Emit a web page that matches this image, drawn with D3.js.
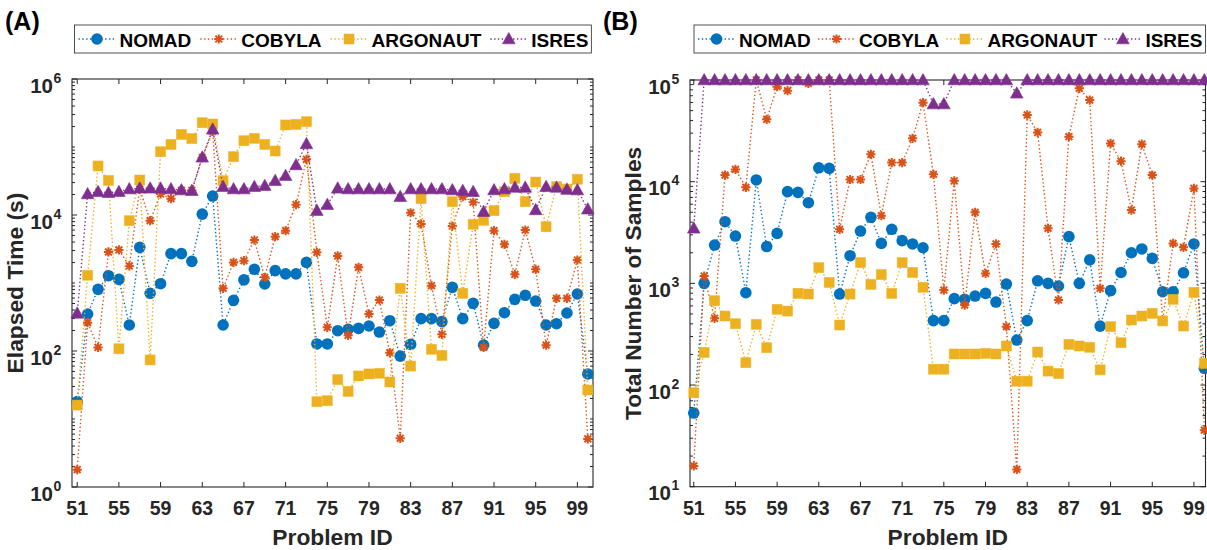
<!DOCTYPE html>
<html>
<head>
<meta charset="utf-8">
<script src="https://cdn.jsdelivr.net/npm/d3@7/dist/d3.min.js"></script>
<style>
body{margin:0;background:#fff;}
#canvas text{font-family:"Liberation Sans",Arial,Helvetica,sans-serif;font-weight:bold;}
</style>
</head>
<body>
<svg id="canvas" width="1207" height="550"></svg>
<script>

// categories
var problemIds = [51,52,53,54,55,56,57,58,59,60,61,62,63,64,65,66,67,68,69,70,
                  71,72,73,74,75,76,77,78,79,80,81,82,83,84,85,86,87,88,89,90,
                  91,92,93,94,95,96,97,98,99,100]
var xTickLabels = [51,55,59,63,67,71,75,79,83,87,91,95,99]
var seriesNames = ["NOMAD","COBYLA","ARGONAUT","ISRES"]

// (A) elapsed time in seconds
var nomadTime = [18,350,807,1280,1130,241,3350,705,977,2700,
                 2700,2080,10300,19000,241,556,1110,1590,967,1520,
                 1360,1360,2010,127,127,199,208,215,233,190,
                 279,84,125,299,299,270,863,299,502,122,
                 255,366,575,659,543,241,252,362,689,46]
var cobylaTime = [1.8,261,113,2860,3060,1780,24000,8260,20400,17400,
                  23000,23000,70000,170000,835,2010,2130,4290,1210,4800,
                  5890,14200,65900,2830,223,2500,170,1700,350,562,
                  94.5,5.2,10800,7400,914,176,6890,18600,15400,113,
                  5890,3700,1340,6020,1590,122,595,595,2180,5.1]
var argonautTime = [16,1300,52600,32300,108,8260,32700,74,85300,109000,
                    153000,133000,228000,218000,32000,72100,124000,134000,109000,87300,
                    211000,215000,236000,18,18.6,38,25.5,43,46,47,
                    35,835,60,17400,106,86,15700,705,7290,8350,
                    11600,22000,34600,15700,30500,6730,26100,24000,33500,26.7]
var isresTime = [358,20400,22000,21300,22000,24100,24700,24700,24700,24100,
                 23300,22800,70500,182000,26100,24100,24100,26100,27000,32000,
                 37900,54400,111000,11600,14200,24700,24100,24100,24100,24100,
                 24100,18600,24100,24100,24100,24100,23300,22800,22000,11200,
                 23300,24100,25400,25400,11900,26100,25400,23800,23300,12200]

// (B) total number of samples
var nomadSamples = [53,1000,2380,4040,2920,809,10400,2300,3100,7980,
                    7850,6210,13700,13500,785,1870,3270,4460,2470,3400,
                    2630,2440,2240,430,430,707,696,750,797,655,
                    984,277,430,1060,1000,942,2880,1000,1700,380,
                    848,1280,2000,2180,1760,828,828,1270,2440,146]
var cobylaSamples = [16,1180,453,11600,13200,8790,100000,41000,86000,78500,
                     100000,92700,100000,100000,3400,10500,10500,18600,4630,15400,
                     15400,26700,59800,11800,859,10200,612,4990,1250,2440,
                     375,14.8,45300,30500,3480,686,27700,82800,63500,893,
                     23800,15900,5260,23400,11600,430,2470,2260,8590,36]
var argonautSamples = [84,209,676,477,401,166,395,233,555,534,
                       797,785,1430,1020,389,785,1600,977,1220,797,
                       1600,1280,914,143,143,202,202,202,205,202,
                       242,109,109,211,137,130,251,242,235,141,
                       375,261,436,477,507,427,696,380,815,163]
var isresSamples = [3480,100000,100000,100000,100000,100000,100000,100000,100000,100000,
                    100000,100000,100000,100000,100000,100000,100000,100000,100000,100000,
                    100000,100000,100000,58000,58000,100000,100000,100000,100000,100000,
                    100000,74000,100000,100000,100000,100000,100000,100000,100000,100000,
                    100000,100000,100000,100000,100000,100000,100000,100000,100000,100000]

var colors = ["#0072BD","#D95319","#EDB120","#7E2F8E"]
var markers = ["circle","asterisk","square","triangle"]
var axisColor = "#262626"

var canvas = d3.select("#canvas")


function drawMarker(sel, type, cx, cy, color){
    if(type=="circle"){
        sel.append("circle").attr("cx",cx).attr("cy",cy).attr("r",5.8).style("fill",color)
    }
    else if(type=="square"){
        sel.append("rect").attr("x",cx-5).attr("y",cy-5).attr("width",10).attr("height",10)
            .style("fill",color).style("stroke",color).style("stroke-opacity",0.6).style("stroke-width",0.8)
    }
    else if(type=="triangle"){
        sel.append("path").attr("d","M"+cx+" "+(cy-6.5)+" L"+(cx+6.3)+" "+(cy+4.8)+" L"+(cx-6.3)+" "+(cy+4.8)+" Z")
            .style("fill",color).style("stroke",color).style("stroke-width",0.6)
    }
    else{
        // matlab '*' : a plus and a cross on top of each other
        var a=4.6, b=3.4
        var d="M"+(cx-a)+" "+cy+" l"+(2*a)+" 0 M"+cx+" "+(cy-a)+" l0 "+(2*a)+
              " M"+(cx-b)+" "+(cy-b)+" l"+(2*b)+" "+(2*b)+" M"+(cx-b)+" "+(cy+b)+" l"+(2*b)+" "+(-2*b)
        sel.append("path").attr("d",d).style("stroke",color).style("stroke-width",2).style("fill","none")
    }
}


function drawPanel(cfg){

    var x = d3.scaleLinear().domain(cfg.xDomain).range([cfg.left, cfg.right])
    var y = d3.scaleLog().domain(cfg.yDomain).range([cfg.bottom, cfg.top])
    var g = canvas.append("g")

    //axes box
    g.append("rect")
        .attr("x",cfg.left).attr("y",cfg.top)
        .attr("width",cfg.right-cfg.left).attr("height",cfg.bottom-cfg.top)
        .style("fill","none").style("stroke",axisColor).style("stroke-width",1.1)

    //x ticks, bottom and top, pointing inward
    xTickLabels.forEach(function(t){
        g.append("line").attr("x1",x(t)).attr("x2",x(t)).attr("y1",cfg.bottom).attr("y2",cfg.bottom-5)
            .style("stroke",axisColor)
        g.append("line").attr("x1",x(t)).attr("x2",x(t)).attr("y1",cfg.top).attr("y2",cfg.top+5)
            .style("stroke",axisColor)
        g.append("text").attr("x",x(t)).attr("y",cfg.bottom+28)
            .attr("text-anchor","middle").style("font-size","19.5px").style("fill",axisColor)
            .text(t)
    })

    //y ticks on a log axis
    var lo = Math.round(Math.log10(cfg.yDomain[0]))
    var hi = Math.round(Math.log10(cfg.yDomain[1]))
    for(var e=lo; e<=hi; e++){
        var major = cfg.yMajor.indexOf(e)>=0
        var len = major ? 5 : 3
        var v = Math.pow(10,e)
        g.append("line").attr("x1",cfg.left).attr("x2",cfg.left+len).attr("y1",y(v)).attr("y2",y(v)).style("stroke",axisColor)
        g.append("line").attr("x1",cfg.right).attr("x2",cfg.right-len).attr("y1",y(v)).attr("y2",y(v)).style("stroke",axisColor)
        if(major){
            g.append("text").attr("x",cfg.left-19).attr("y",y(v)+13.5)
                .attr("text-anchor","end").style("font-size","20.5px").style("fill",axisColor).text("10")
            g.append("text").attr("x",cfg.left-18.5).attr("y",y(v)+3.5)
                .style("font-size","14px").style("fill",axisColor).text(e)
        }
        if(e<hi){
            for(var k=2;k<=9;k++){
                var m = k*v
                g.append("line").attr("x1",cfg.left).attr("x2",cfg.left+3).attr("y1",y(m)).attr("y2",y(m)).style("stroke",axisColor)
                g.append("line").attr("x1",cfg.right).attr("x2",cfg.right-3).attr("y1",y(m)).attr("y2",y(m)).style("stroke",axisColor)
            }
        }
    }

    //axis labels
    g.append("text").attr("x",(cfg.left+cfg.right)/2).attr("y",545)
        .attr("text-anchor","middle").style("font-size","22.8px").style("fill",axisColor)
        .text("Problem ID")
    g.append("text")
        .attr("transform","translate("+(cfg.left-49.5)+","+((cfg.top+cfg.bottom)/2)+") rotate(-90)")
        .attr("text-anchor","middle").style("font-size","22.8px").style("fill",axisColor)
        .text(cfg.yLabel)

    //panel letter
    g.append("text").attr("x",cfg.letterX).attr("y",30)
        .style("font-size","25px").style("fill","#000").text(cfg.letter)

    //series: dotted line then markers, in legend order
    for(var i=0;i<4;i++){
        var vals = cfg.values[i]
        var pts = problemIds.map(function(id,j){ return [x(id), y(vals[j])] })
        g.append("path").attr("d", d3.line()(pts))
            .style("fill","none").style("stroke",colors[i])
            .style("stroke-width",1.4).style("stroke-dasharray","1.4,2.4")
        var mg = g.append("g")
        pts.forEach(function(p){ drawMarker(mg, markers[i], p[0], p[1], colors[i]) })
    }

    //legend
    var lg = g.append("g")
    var box = lg.append("rect").attr("x",cfg.legendX).attr("y",25).attr("height",28)
        .style("fill","#fff").style("stroke",axisColor).style("stroke-width",0.8)
    var cur = cfg.legendX+4
    for(var i=0;i<4;i++){
        lg.append("line").attr("x1",cur).attr("x2",cur+37).attr("y1",39).attr("y2",39)
            .style("stroke",colors[i]).style("stroke-width",1.4).style("stroke-dasharray","1.4,2.4")
        drawMarker(lg, markers[i], cur+18.5, 39, colors[i])
        var txt = lg.append("text").attr("x",cur+41).attr("y",46.5)
            .style("font-size","19px").style("fill","#000").text(seriesNames[i])
        cur = cur+41+txt.node().getComputedTextLength()+cfg.legendGap
    }
    box.attr("width", cur-cfg.legendGap+3-cfg.legendX)
}


drawPanel({
    left:72, right:593, top:79, bottom:487,
    xDomain:[50.5,100.5], yDomain:[1,1e6], yMajor:[0,2,4,6],
    yLabel:"Elapsed Time (s)", letter:"(A)", letterX:5,
    legendX:74.5, legendGap:9,
    values:[nomadTime, cobylaTime, argonautTime, isresTime]
})

drawPanel({
    left:690, right:1205.5, top:80, bottom:486.7,
    xDomain:[50.64,100.11], yDomain:[10,1e5], yMajor:[1,2,3,4,5],
    yLabel:"Total Number of Samples", letter:"(B)", letterX:603,
    legendX:694, legendGap:7.2,
    values:[nomadSamples, cobylaSamples, argonautSamples, isresSamples]
})

</script>
</body>
</html>
